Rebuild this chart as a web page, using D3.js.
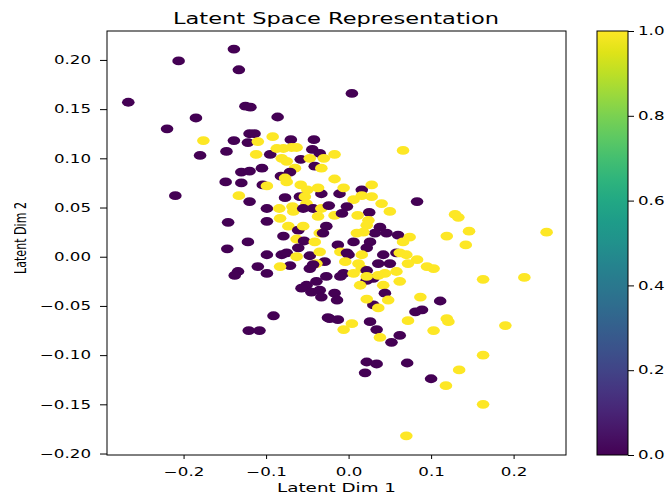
<!DOCTYPE html>
<html>
<head>
<meta charset="utf-8">
<script src="https://cdn.jsdelivr.net/npm/d3@7"></script>
<style>
  html, body { margin: 0; padding: 0; background: #fff; }
  svg { display: block; }
  text { font-family: "DejaVu Sans", sans-serif; fill: #000; }
</style>
</head>
<body>
<svg id="chart" width="669" height="495"></svg>
<script>
// ---- data ----
const latentDim1 = [
-0.267,-0.206,-0.139,-0.133,-0.125,-0.119,-0.185,-0.086,-0.220,0.004,
-0.176,-0.139,-0.122,-0.120,-0.114,-0.110,-0.092,-0.070,-0.042,-0.180,
-0.148,-0.112,-0.095,-0.087,-0.079,-0.069,-0.063,-0.044,-0.035,-0.081,
-0.075,-0.058,-0.047,-0.030,-0.041,-0.033,-0.065,-0.071,-0.130,-0.120,
-0.105,-0.082,-0.077,-0.075,-0.149,-0.130,-0.104,-0.099,-0.058,-0.050,
-0.033,-0.037,-0.210,-0.133,-0.077,-0.059,-0.120,-0.099,-0.084,-0.068,
-0.067,-0.051,-0.043,-0.033,-0.083,-0.099,-0.146,-0.073,-0.061,-0.055,
-0.079,-0.063,-0.054,-0.041,-0.122,-0.147,-0.035,-0.027,-0.037,-0.031,
-0.099,-0.081,-0.075,-0.061,-0.063,-0.047,-0.035,-0.029,-0.039,-0.071,
-0.083,-0.047,-0.110,-0.099,-0.134,-0.138,-0.027,-0.051,-0.057,-0.039,
-0.045,-0.035,-0.033,-0.091,-0.121,-0.108,-0.025,-0.017,0.066,-0.017,
-0.053,-0.011,0.016,0.028,-0.006,0.006,0.016,0.028,0.040,0.050,
0.083,-0.024,-0.002,-0.017,-0.008,0.025,0.011,0.129,0.133,0.024,
0.022,0.038,0.046,0.060,0.032,0.074,0.066,0.119,0.146,0.142,
0.240,0.006,0.026,0.010,0.018,-0.013,-0.010,0.022,-0.002,0.016,
0.042,0.058,0.070,0.083,0.095,0.103,0.050,0.036,0.072,0.012,
0.016,-0.043,0.163,0.213,0.030,0.022,-0.006,0.006,0.044,0.058,
0.042,0.062,0.014,-0.017,0.087,0.111,0.044,0.000,0.062,-0.004,
0.022,-0.010,-0.014,0.022,0.036,0.030,0.022,0.036,0.048,0.081,
0.089,0.072,0.119,0.121,0.103,0.190,-0.023,-0.013,0.004,-0.006,
0.026,0.034,0.038,0.062,0.052,0.022,0.034,0.020,0.071,0.100,
0.134,0.163,0.118,0.163,0.070,-0.055
];
const latentDim2 = [
0.157,0.199,0.211,0.190,0.153,0.152,0.141,0.142,0.130,0.166,
0.118,0.118,0.116,0.125,0.125,0.117,0.122,0.119,0.119,0.103,
0.107,0.104,0.104,0.110,0.110,0.111,0.111,0.109,0.105,0.100,
0.097,0.099,0.100,0.100,0.092,0.090,0.090,0.086,0.086,0.087,
0.090,0.082,0.080,0.076,0.076,0.075,0.073,0.072,0.073,0.068,
0.064,0.070,0.062,0.062,0.060,0.061,0.056,0.049,0.049,0.051,
0.046,0.054,0.049,0.049,0.039,0.036,0.035,0.031,0.027,0.031,
0.021,0.018,0.016,0.015,0.015,0.008,0.024,0.031,0.041,0.024,
0.002,0.002,0.004,0.009,0.000,0.001,0.005,-0.005,-0.007,-0.009,
-0.010,-0.012,-0.010,-0.017,-0.015,-0.019,-0.020,-0.029,-0.032,-0.025,
-0.036,-0.034,-0.041,-0.060,-0.075,-0.075,-0.062,0.104,0.108,0.079,
0.061,0.064,0.068,0.073,0.070,0.058,0.062,0.061,0.054,0.046,
0.056,0.052,0.051,0.042,0.044,0.045,0.042,0.043,0.040,0.037,
0.032,0.030,0.024,0.022,0.024,0.020,0.015,0.021,0.026,0.012,
0.025,0.015,0.015,0.024,0.025,0.012,0.005,0.009,0.004,0.002,
0.002,0.004,0.002,-0.003,-0.010,-0.012,-0.007,-0.007,-0.007,-0.007,
-0.012,-0.008,-0.023,-0.021,-0.022,-0.024,-0.017,-0.017,-0.017,-0.015,
-0.029,-0.025,-0.029,-0.037,-0.041,-0.045,-0.037,0.002,0.004,-0.005,
-0.014,-0.020,-0.044,-0.020,-0.019,-0.049,-0.043,-0.052,-0.044,-0.056,
-0.054,-0.065,-0.063,-0.066,-0.075,-0.070,-0.063,-0.064,-0.068,-0.074,
-0.066,-0.074,-0.082,-0.080,-0.087,-0.107,-0.109,-0.118,-0.108,-0.124,
-0.115,-0.100,-0.131,-0.150,-0.182,0.049
];
const labels = [
0,0,0,0,0,0,0,0,0,0,
1,0,0,0,0,1,1,0,0,0,
0,1,0,1,1,1,1,0,0,1,
1,0,1,1,0,1,1,0,0,0,
0,0,1,1,0,0,0,1,1,1,
0,1,0,1,0,0,0,0,1,1,
1,1,0,1,1,0,0,1,0,1,
0,1,0,1,0,0,1,0,1,0,
0,0,0,0,1,0,1,0,1,0,
1,0,0,0,0,0,0,0,0,0,
0,0,0,0,0,0,0,1,1,1,
1,0,0,1,1,1,1,1,1,1,
0,0,0,1,0,0,1,1,1,1,
1,0,0,0,0,1,1,1,1,1,
1,0,0,1,1,0,1,0,0,1,
0,0,1,1,1,1,0,0,1,1,
1,0,1,1,0,0,0,1,1,1,
1,1,1,0,1,0,0,0,1,1,
0,0,0,1,1,0,1,1,1,0,
0,1,1,1,1,1,0,0,1,1,
0,0,1,0,0,0,0,0,0,0,
1,1,1,1,1,0
];
const xTicks = [-0.2, -0.1, 0.0, 0.1, 0.2];
const yTicks = [-0.20, -0.15, -0.10, -0.05, 0.00, 0.05, 0.10, 0.15, 0.20];
const cbTicks = [0.0, 0.2, 0.4, 0.6, 0.8, 1.0];
const titleText = "Latent Space Representation";
const xLabelText = "Latent Dim 1";
const yLabelText = "Latent Dim 2";

// ---- layout ----
const svg = d3.select("#chart");
const STRETCH = 1.45;
const plot = { left: 107, right: 566, top: 31, bottom: 455 };
const cb = { left: 597, right: 628, top: 31, bottom: 455 };

const x = d3.scaleLinear().domain([-0.2928, 0.2635]).range([plot.left, plot.right]);
const y = d3.scaleLinear().domain([-0.2015, 0.2294]).range([plot.bottom, plot.top]);
const color = v => d3.interpolateViridis(v);

function stretchText(sel, k) {
  sel.each(function () {
    const w = this.getComputedTextLength();
    d3.select(this).attr("textLength", w * k).attr("lengthAdjust", "spacingAndGlyphs");
  });
}

// points
const pts = latentDim1.map((d, i) => ({ x: d, y: latentDim2[i], c: labels[i] }));
svg.append("defs").append("clipPath").attr("id", "plotclip")
  .append("rect").attr("x", plot.left).attr("y", plot.top)
  .attr("width", plot.right - plot.left).attr("height", plot.bottom - plot.top);

svg.append("g").attr("clip-path", "url(#plotclip)")
  .selectAll("ellipse").data(pts).join("ellipse")
  .attr("cx", d => x(d.x)).attr("cy", d => y(d.y))
  .attr("rx", 6.3).attr("ry", 4.4)
  .attr("fill", d => color(d.c));

// axes
const fmtY = d => d3.format(".2f")(d).replace("-", "\u2212");
const fmtX = d => d3.format(".1f")(d).replace("-", "\u2212");

const gx = svg.append("g").attr("transform", `translate(0,${plot.bottom})`)
  .call(d3.axisBottom(x).tickValues(xTicks).tickFormat(fmtX).tickSize(4).tickPadding(8));
const gy = svg.append("g").attr("transform", `translate(${plot.left},0)`)
  .call(d3.axisLeft(y).tickValues(yTicks).tickFormat(fmtY).tickSize(7).tickPadding(9));
[gx, gy].forEach(g => {
  g.select(".domain").remove();
  g.selectAll(".tick line").attr("stroke", "#000").attr("stroke-width", 1);
  g.selectAll(".tick text").attr("font-size", 11.5).attr("font-family", "DejaVu Sans").attr("fill", "#000");
});
gx.selectAll(".tick text").attr("dy", "0.75em");
stretchText(gx.selectAll(".tick text"), STRETCH);
stretchText(gy.selectAll(".tick text"), STRETCH);

// frame
svg.append("rect").attr("x", plot.left).attr("y", plot.top)
  .attr("width", plot.right - plot.left).attr("height", plot.bottom - plot.top)
  .attr("fill", "none").attr("stroke", "#000").attr("stroke-width", 1);

// title & labels
svg.append("text").attr("x", 336).attr("y", 23.5).attr("text-anchor", "middle")
  .attr("font-size", 16.5).text(titleText)
  .attr("textLength", 326).attr("lengthAdjust", "spacingAndGlyphs");
svg.append("text").attr("x", 336.5).attr("y", 492).attr("text-anchor", "middle")
  .attr("font-size", 12.5).text(xLabelText)
  .attr("textLength", 119).attr("lengthAdjust", "spacingAndGlyphs");

svg.append("defs").append("clipPath").attr("id", "ylabclip")
  .append("rect").attr("x", 14).attr("y", 0).attr("width", 100).attr("height", 495);
svg.append("g").attr("clip-path", "url(#ylabclip)")
  .append("text").attr("transform", `translate(25.5,238) scale(${STRETCH},1) rotate(-90)`)
  .attr("text-anchor", "middle").attr("font-size", 11.5).text(yLabelText)
  .attr("textLength", 72).attr("lengthAdjust", "spacingAndGlyphs");

// colorbar
const grad = svg.append("defs").append("linearGradient").attr("id", "viridis")
  .attr("x1", 0).attr("y1", 1).attr("x2", 0).attr("y2", 0);
d3.range(0, 1.0001, 0.05).forEach(t => {
  grad.append("stop").attr("offset", t).attr("stop-color", color(t));
});
svg.append("rect").attr("x", cb.left).attr("y", cb.top)
  .attr("width", cb.right - cb.left).attr("height", cb.bottom - cb.top)
  .attr("fill", "url(#viridis)").attr("stroke", "#000").attr("stroke-width", 1);
const cbScale = d3.scaleLinear().domain([0, 1]).range([cb.bottom, cb.top]);
const gcb = svg.append("g").attr("transform", `translate(${cb.right},0)`)
  .call(d3.axisRight(cbScale).tickValues(cbTicks).tickFormat(d3.format(".1f")).tickSize(6).tickPadding(4));
gcb.select(".domain").remove();
gcb.selectAll(".tick line").attr("stroke", "#000").attr("stroke-width", 1);
gcb.selectAll(".tick text").attr("font-size", 11.5).attr("font-family", "DejaVu Sans").attr("fill", "#000");
stretchText(gcb.selectAll(".tick text"), STRETCH);
</script>
</body>
</html>
